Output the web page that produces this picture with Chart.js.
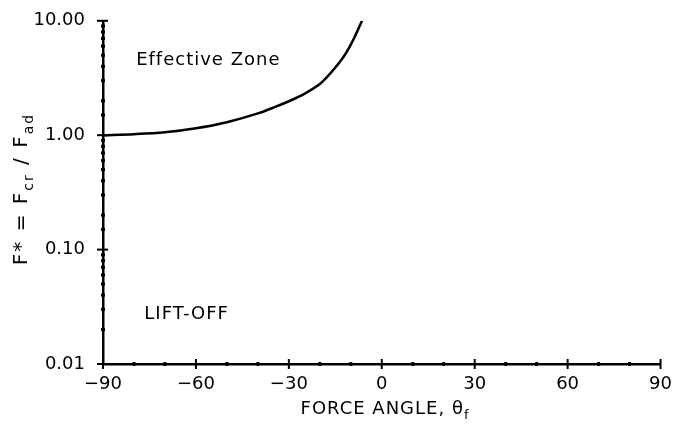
<!DOCTYPE html>
<html>
<head>
<meta charset="utf-8">
<script src="https://cdn.jsdelivr.net/npm/chart.js@4.4.1/dist/chart.umd.min.js"></script>
<style>
  html, body { margin: 0; padding: 0; background: #fff; }
  #wrap { width: 674px; height: 433px; }
</style>
</head>
<body>
<div id="wrap"><canvas id="chart"></canvas></div>
<script>
// critical force ratio vs. force angle
const angles = [-90, -80, -70, -60, -50, -40, -35, -30, -25, -20, -18, -15, -12, -10, -9, -8, -7, -6.4];
const ratios = [1.00, 1.02, 1.06, 1.15, 1.30, 1.55, 1.74, 1.98, 2.3, 2.8, 3.15, 3.9, 5.0, 6.2, 7.0, 8.0, 9.2, 10.0];
const yLabels = [0.01, 0.1, 1, 10];
const xLabels = [-90, -60, -30, 0, 30, 60, 90];

const zoneNotes = [
  { text: 'Effective Zone', x: -56, y: 4.5 },
  { text: 'LIFT-OFF', x: -63, y: 0.027 }
];

const FONT = '"DejaVu Sans", sans-serif';

function isDecade(v) {
  return yLabels.some(d => Math.abs(v - d) < d * 1e-6);
}

// tick marks: crosses at labelled values, dots at the rest
const tickMarks = {
  id: 'tickMarks',
  afterDraw(chart) {
    const ctx = chart.ctx;
    const xs = chart.scales.x, ys = chart.scales.y;
    const area = chart.chartArea;
    ctx.save();
    ctx.fillStyle = '#000';
    ctx.strokeStyle = '#000';
    ctx.lineWidth = 2;
    ys.ticks.forEach((t, i) => {
      const py = ys.getPixelForTick(i);
      if (isDecade(t.value)) {
        ctx.beginPath();
        ctx.moveTo(area.left - 6, py);
        ctx.lineTo(area.left + 5, py);
        ctx.stroke();
      } else {
        ctx.fillRect(area.left - 2, py - 1.5, 4, 3);
      }
    });
    xs.ticks.forEach((t, i) => {
      const px = xs.getPixelForTick(i);
      if (xLabels.includes(t.value)) {
        ctx.beginPath();
        ctx.moveTo(px, area.bottom - 5);
        ctx.lineTo(px, area.bottom + 5);
        ctx.stroke();
      } else {
        ctx.fillRect(px - 1.5, area.bottom - 2, 3, 4);
      }
    });
    ctx.restore();
  }
};

// zone labels and axis titles with subscripts
const textLayer = {
  id: 'textLayer',
  afterDraw(chart) {
    const ctx = chart.ctx;
    const xs = chart.scales.x, ys = chart.scales.y;
    ctx.save();
    ctx.fillStyle = '#000';
    ctx.textBaseline = 'middle';
    ctx.textAlign = 'center';
    ctx.font = '18px ' + FONT;
    ctx.letterSpacing = '1px';
    zoneNotes.forEach(n => {
      ctx.fillText(n.text, xs.getPixelForValue(n.x), ys.getPixelForValue(n.y));
    });

    // pieces: [text, isSubscript]
    function drawPieces(pieces, cx, cy, size) {
      const subSize = Math.round(size * 0.72);
      let total = 0;
      pieces.forEach(p => {
        ctx.font = (p[1] ? subSize : size) + 'px ' + FONT;
        total += ctx.measureText(p[0]).width;
      });
      let x = cx - total / 2;
      ctx.textAlign = 'left';
      pieces.forEach(p => {
        ctx.font = (p[1] ? subSize : size) + 'px ' + FONT;
        ctx.fillText(p[0], x, p[1] ? cy + size * 0.35 : cy);
        x += ctx.measureText(p[0]).width;
      });
    }

    drawPieces([['FORCE ANGLE, \u03B8', false], ['f', true]], 385, 409, 18);

    ctx.letterSpacing = '2px';
    ctx.translate(22, 189);
    ctx.rotate(-Math.PI / 2);
    drawPieces([['F', false], ['*', false], [' = F', false], ['cr', true], [' / F', false], ['ad', true]], 0, 0, 20);
    ctx.restore();
  }
};

new Chart(document.getElementById('chart'), {
  type: 'line',
  data: {
    datasets: [{
      data: angles.map((a, i) => ({ x: a, y: ratios[i] })),
      borderColor: '#000',
      borderWidth: 2.5,
      pointRadius: 0,
      cubicInterpolationMode: 'monotone',
      fill: false
    }]
  },
  options: {
    responsive: true,
    maintainAspectRatio: false,
    animation: false,
    layout: { padding: { top: 16, right: 13, left: 0, bottom: 0 } },
    plugins: { legend: { display: false }, tooltip: { enabled: false } },
    scales: {
      x: {
        type: 'linear',
        min: -90,
        max: 90,
        border: { display: true, color: '#000', width: 2.5 },
        grid: { display: false },
        ticks: {
          stepSize: 10,
          autoSkip: false,
          maxRotation: 0,
          color: '#000',
          padding: 2,
          font: { family: FONT, size: 18 },
          callback: v => xLabels.includes(v) ? String(v).replace('-', '\u2212') : ''
        },
        afterFit: s => { s.height = 69; }
      },
      y: {
        type: 'logarithmic',
        min: 0.01,
        max: 10,
        border: { display: true, color: '#000', width: 2.5 },
        grid: { display: false },
        ticks: {
          autoSkip: false,
          color: '#000',
          padding: 10,
          font: { family: FONT, size: 18 },
          callback: v => isDecade(v) ? Number(v).toFixed(2) : ''
        },
        afterFit: s => { s.width = 103; }
      }
    }
  },
  plugins: [tickMarks, textLayer]
});
</script>
</body>
</html>
